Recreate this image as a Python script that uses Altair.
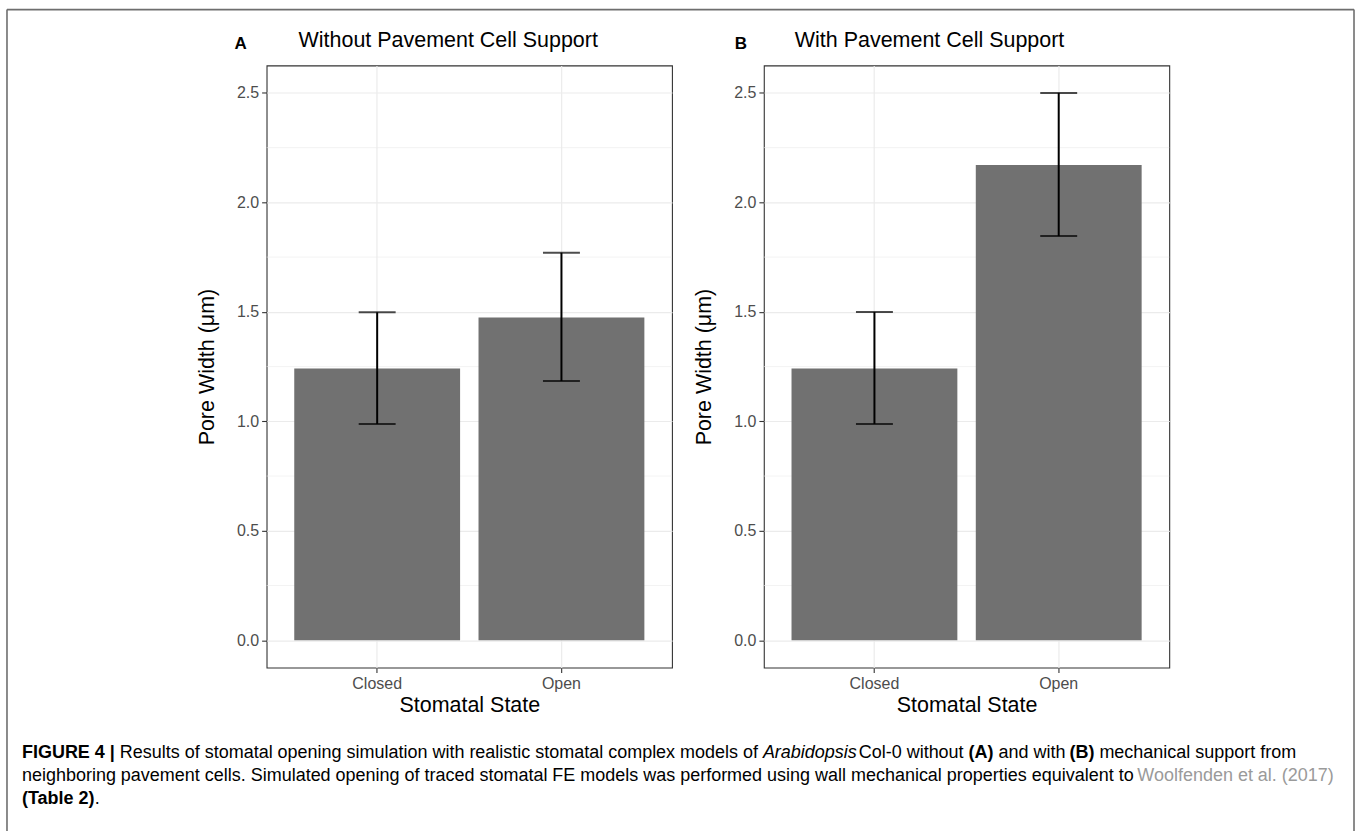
import altair as alt
import pandas as pd

# ---- data ----
states = ["Closed", "Open"]
width_a = [1.241, 1.474]
lo_a = [0.988, 1.184]
hi_a = [1.498, 1.770]
width_b = [1.241, 2.171]
lo_b = [0.988, 1.846]
hi_b = [1.499, 2.500]

y_major = [0.0, 0.5, 1.0, 1.5, 2.0, 2.5]
y_minor = [0.25, 0.75, 1.25, 1.75, 2.25]

FONT = "Liberation Sans"
BAR = "#717171"
GRID = "#EBEBEB"

PW, PH = 406, 603  # plot area size
ORIGIN_A = (266, 64)
ORIGIN_B = (764, 64)

LABEL_SIZE = 16
TITLE_SIZE = 21.5
CAP_SIZE = 18


def panel(vals, lo, hi, origin, show_canvas=False):
    df = pd.DataFrame({"state": states, "val": vals, "lo": lo, "hi": hi})
    base = alt.Chart(df)
    xenc = alt.X(
        "state:N",
        sort=states,
        scale=alt.Scale(paddingInner=0.1, paddingOuter=0.15),
        axis=alt.Axis(
            title="Stomatal State",
            grid=True,
            gridColor=GRID,
            gridWidth=1.2,
            bandPosition=0.5,
            labelAngle=0,
            domain=False,
            tickColor="#333333",
            tickSize=5,
            tickWidth=1.1,
            labelPadding=3,
            labelFontSize=LABEL_SIZE,
            labelColor="#4D4D4D",
            titleFontSize=TITLE_SIZE,
            titleFontWeight="normal",
            titleColor="#000000",
            titlePadding=3,
        ),
    )
    yscale = alt.Scale(domain=[-0.125, 2.625], nice=False, zero=False)
    yenc = alt.Y(
        "val:Q",
        scale=yscale,
        axis=alt.Axis(
            title="Pore Width (\u03bcm)",
            values=y_major,
            format=".1f",
            grid=True,
            gridColor=GRID,
            gridWidth=1.2,
            domain=False,
            tickColor="#333333",
            tickSize=5,
            tickWidth=1.1,
            labelPadding=3,
            labelFontSize=LABEL_SIZE,
            labelColor="#4D4D4D",
            titleFontSize=TITLE_SIZE,
            titleFontWeight="normal",
            titleColor="#000000",
            titlePadding=18,
        ),
    )
    minor = alt.Chart(pd.DataFrame({"m": y_minor})).mark_rule(
        color=GRID, strokeWidth=0.6
    ).encode(y=alt.Y("m:Q", scale=yscale))
    bars = base.mark_bar(color=BAR).encode(x=xenc, y=yenc)
    stems = base.mark_rule(color="#000000", strokeWidth=2).encode(
        x=alt.X("state:N", sort=states), y=alt.Y("lo:Q"), y2="hi:Q"
    )
    cap_hi = base.mark_tick(color="#000000", thickness=2, size=37, orient="horizontal").encode(
        x=alt.X("state:N", sort=states), y=alt.Y("hi:Q")
    )
    cap_lo = base.mark_tick(color="#000000", thickness=2, size=37, orient="horizontal").encode(
        x=alt.X("state:N", sort=states), y=alt.Y("lo:Q")
    )
    one = alt.Chart(pd.DataFrame({"k": [0]}))
    ox, oy = origin
    layers = []
    if show_canvas:
        canvas = one.mark_rect(opacity=0).encode(
            x=alt.value(-ox), x2=alt.value(1358 - ox), y=alt.value(-oy), y2=alt.value(831 - oy)
        )
        layers.append(canvas)
    layers += [minor, bars, stems, cap_hi, cap_lo]
    return layers, one


def text_layer(one, txt, x, y, origin, size=16, weight="normal", style="normal", color="#000000",
               align="left"):
    ox, oy = origin
    return one.mark_text(
        text=txt, font=FONT, fontSize=size, fontWeight=weight, fontStyle=style,
        color=color, align=align, baseline="middle"
    ).encode(x=alt.value(x - ox), y=alt.value(y - oy))


def build(vals, lo, hi, letter, letter_x, title, title_x, origin, canvas=False):
    layers, one = panel(vals, lo, hi, origin, show_canvas=canvas)
    layers.append(text_layer(one, letter, letter_x, 42, origin, size=17, weight="bold", align="center"))
    layers.append(text_layer(one, title, title_x, 39, origin, size=21.5))
    if canvas:
        ox, oy = origin
        border_col = "#6e6e6e"
        layers.append(one.mark_rule(color=border_col, strokeWidth=1.6).encode(
            x=alt.value(6 - ox), y=alt.value(8 - oy), y2=alt.value(831 - oy)))
        layers.append(one.mark_rule(color=border_col, strokeWidth=1.6).encode(
            x=alt.value(6 - ox), x2=alt.value(1355 - ox), y=alt.value(8 - oy)))
        layers.append(one.mark_rule(color=border_col, strokeWidth=1.6).encode(
            x=alt.value(1355 - ox), y=alt.value(8 - oy), y2=alt.value(831 - oy)))
        # caption
        L1, L2, L3 = 753, 776, 799
        segs = [
            ("FIGURE 4 |", 21, L1, "bold", "normal", "#000000"),
            ("Results of stomatal opening simulation with realistic stomatal complex models of", 119, L1, "normal", "normal", "#000000"),
            ("Arabidopsis", 763, L1, "normal", "italic", "#000000"),
            ("Col-0 without", 859, L1, "normal", "normal", "#000000"),
            ("(A)", 969, L1, "bold", "normal", "#000000"),
            ("and with", 999, L1, "normal", "normal", "#000000"),
            ("(B)", 1070, L1, "bold", "normal", "#000000"),
            ("mechanical support from", 1100, L1, "normal", "normal", "#000000"),
            ("neighboring pavement cells. Simulated opening of traced stomatal FE models was performed using wall mechanical properties equivalent to", 21, L2, "normal", "normal", "#000000"),
            ("Woolfenden et al. (2017)", 1138, L2, "normal", "normal", "#9a9a9a"),
            ("(Table 2)", 21, L3, "bold", "normal", "#000000"),
            (".", 94, L3, "normal", "normal", "#000000"),
        ]
        for t, x, y, w, s, c in segs:
            layers.append(text_layer(one, t, x, y, origin, size=CAP_SIZE, weight=w, style=s, color=c))
    return alt.layer(*layers).properties(width=PW, height=PH)


pa = build(width_a, lo_a, hi_a, "A", 240, "Without Pavement Cell Support", 298, ORIGIN_A, canvas=True)
pb = build(width_b, lo_b, hi_b, "B", 741, "With Pavement Cell Support", 795, ORIGIN_B)

chart = alt.hconcat(pa, pb, spacing=ORIGIN_B[0] - ORIGIN_A[0] - PW, bounds="flush").properties(
    padding=0, background="white"
).configure_view(stroke="#333333", strokeWidth=1.1).configure_axis(
    labelFont=FONT, titleFont=FONT
)

chart.save("out.html", embed_options={"renderer": "svg", "actions": False})
